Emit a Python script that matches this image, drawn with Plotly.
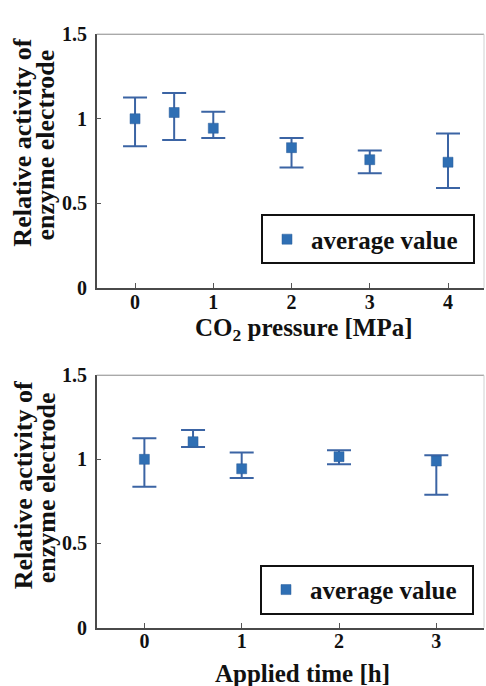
import plotly.graph_objects as go

# CO2 pressure experiment
pressure = [0, 0.5, 1, 2, 3, 4]
pressure_mean = [1.0, 1.037, 0.944, 0.829, 0.758, 0.743]
pressure_upper = [1.126, 1.152, 1.041, 0.886, 0.812, 0.913]
pressure_lower = [0.837, 0.875, 0.886, 0.712, 0.678, 0.590]

# Applied time experiment
applied_time = [0, 0.5, 1, 2, 3]
time_mean = [1.0, 1.105, 0.944, 1.016, 0.990]
time_upper = [1.126, 1.174, 1.040, 1.054, 1.025]
time_lower = [0.837, 1.073, 0.889, 0.971, 0.789]

y_ticks = [0, 0.5, 1, 1.5]
y_tick_text = ["0", "0.5", "1", "1.5"]
pressure_ticks = [0, 1, 2, 3, 4]
time_ticks = [0, 1, 2, 3]

SERIF = "Liberation Serif, Times New Roman, serif"
MARKER = "#2f6fb4"
BAR = "#3b64a4"
W, H = 486, 686


def px_x(p):
    return p / W


def px_y(p):
    return 1 - p / H


def errors(mean, upper, lower):
    plus = [u - m for u, m in zip(upper, mean)]
    minus = [m - l for m, l in zip(mean, lower)]
    return plus, minus


fig = go.Figure()

p_plus, p_minus = errors(pressure_mean, pressure_upper, pressure_lower)
t_plus, t_minus = errors(time_mean, time_upper, time_lower)

for xs, ys, plus, minus, xa, ya, lg in [
    (pressure, pressure_mean, p_plus, p_minus, "x", "y", "legend"),
    (applied_time, time_mean, t_plus, t_minus, "x2", "y2", "legend2"),
]:
    fig.add_trace(go.Scatter(
        x=xs, y=ys, mode="markers", name="average value",
        xaxis=xa, yaxis=ya, legend=lg, showlegend=True,
        marker=dict(symbol="square", size=10, color=MARKER,
                    line=dict(color="#2a5d9a", width=0.5)),
        error_y=dict(type="data", symmetric=False, array=plus, arrayminus=minus,
                     color=BAR, thickness=2, width=12),
    ))

x_dom = [px_x(96.7), px_x(484)]
top_dom = [px_y(286), px_y(24)]
bot_dom = [px_y(637), px_y(376.3)]

axis_font = dict(family=SERIF, size=20, color="#111", weight="bold")
common_x = dict(showline=True, linecolor="#4a4a4a", linewidth=1.5, ticks="inside",
                ticklen=5, tickcolor="#555", tickwidth=1, showgrid=False,
                zeroline=False, tickfont=axis_font, ticklabelstandoff=-5)
common_y = dict(showline=True, linecolor="#4a4a4a", linewidth=1.5, ticks="inside",
                ticklen=5, tickcolor="#555", tickwidth=1, showgrid=False,
                zeroline=False, tickfont=axis_font, range=[0, 1.5],
                tickvals=y_ticks, ticktext=y_tick_text, ticklabelstandoff=4)

legend_style = dict(xanchor="left", yanchor="middle", bordercolor="#111",
                    borderwidth=2, bgcolor="white", visible=True, itemwidth=38,
                    orientation="h", entrywidth=157,
                    font=dict(family=SERIF, size=25, color="#111", weight="bold"))

fig.update_layout(
    width=W, height=H, margin=dict(l=0, r=0, t=0, b=0),
    paper_bgcolor="white", plot_bgcolor="white", showlegend=True,
    xaxis=dict(domain=x_dom, anchor="y", range=[-0.49, 4.46],
               tickvals=pressure_ticks, **common_x),
    yaxis=dict(domain=top_dom, anchor="x", **common_y),
    xaxis2=dict(domain=x_dom, anchor="y2", range=[-0.49, 3.49],
                tickvals=time_ticks, **common_x),
    yaxis2=dict(domain=bot_dom, anchor="x2", **common_y),
    legend=dict(x=px_x(261), y=px_y(236), **legend_style),
    legend2=dict(x=px_x(260), y=px_y(598), **legend_style),
)

# Frame lines on the top and right edges of each panel
for xr, yr in [("x domain", "y domain"), ("x2 domain", "y2 domain")]:
    fig.add_shape(type="line", xref=xr, yref=yr, x0=0, x1=1, y0=1, y1=1,
                  line=dict(color="#888", width=1))
    fig.add_shape(type="line", xref=xr, yref=yr, x0=1, x1=1, y0=0, y1=1,
                  line=dict(color="#d0d0d0", width=1))

title_font = dict(family=SERIF, size=25, color="#111", weight="bold")
ytitle_font = dict(family=SERIF, size=26, color="#111", weight="bold")

annotations = [
    dict(text="CO<sub>2</sub> pressure [MPa]", x=px_x(304), y=px_y(329)),
    dict(text="Applied time [h]", x=px_x(302), y=px_y(684)),
]
for a in annotations:
    fig.add_annotation(xref="paper", yref="paper", showarrow=False,
                       xanchor="center", yanchor="middle", font=title_font, **a)

for cy in [136, 490]:
    fig.add_annotation(text="Relative activity of", x=px_x(23), y=px_y(cy),
                       xref="paper", yref="paper", showarrow=False, textangle=-90,
                       xanchor="center", yanchor="middle", font=ytitle_font)
    fig.add_annotation(text="enzyme electrode", x=px_x(46), y=px_y(cy + 3),
                       xref="paper", yref="paper", showarrow=False, textangle=-90,
                       xanchor="center", yanchor="middle", font=ytitle_font)

fig.write_html("out.html")
